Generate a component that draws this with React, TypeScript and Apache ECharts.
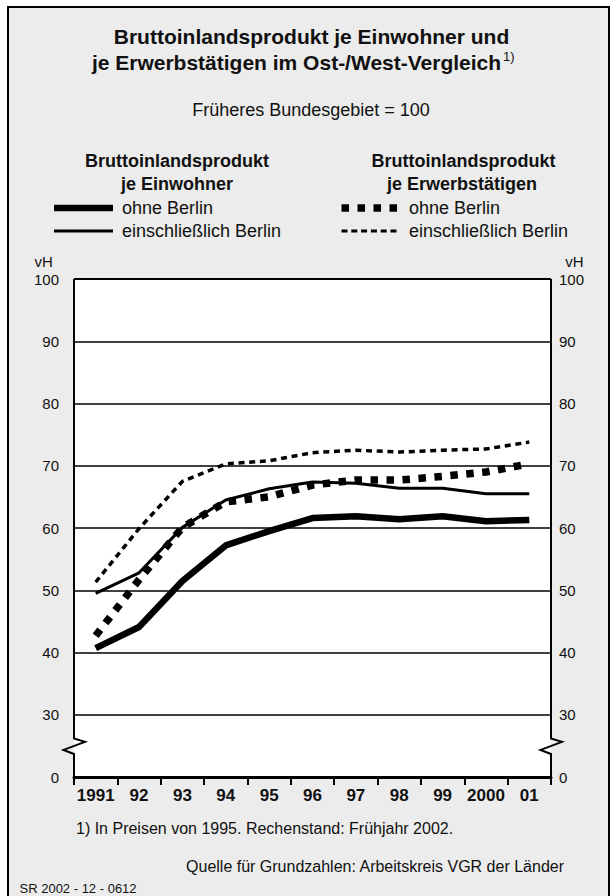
import React, { useEffect, useRef } from "react";
import * as echarts from "echarts";

const years = ["1991", "92", "93", "94", "95", "96", "97", "98", "99", "2000", "01"];
// BIP je Einwohner
const einwOhneBerlin = [40.7, 44.1, 51.5, 57.2, 59.5, 61.6, 61.9, 61.4, 61.9, 61.1, 61.3];
const einwMitBerlin = [49.5, 52.8, 60.1, 64.5, 66.3, 67.4, 67.2, 66.4, 66.4, 65.5, 65.5];
// BIP je Erwerbstätigen
const erwOhneBerlin = [42.7, 51.7, 60.1, 64.2, 65.0, 66.9, 67.7, 67.7, 68.3, 69.0, 70.3];
const erwMitBerlin = [51.3, 59.9, 67.5, 70.3, 70.8, 72.1, 72.5, 72.2, 72.5, 72.7, 73.8];

const yMin = 20; // shown as "0" (broken axis)
const yMax = 100;
const yStep = 10;

const FONT = "'Liberation Sans', Arial, Helvetica, sans-serif";

export default function App() {
  const ref = useRef<HTMLDivElement>(null);

  useEffect(() => {
    if (!ref.current) return;
    const chart = echarts.init(ref.current, undefined, { renderer: "svg" });

    const W = 611;
    const H = 896;
    const gLeft = 74;
    const gRight = 60;
    const gTop = 279;
    const gBottom = 119;
    const xl = gLeft;
    const xr = W - gRight;
    const yt = gTop;
    const yb = H - gBottom;
    const yOf = (v: number) => yt + ((yMax - v) / (yMax - yMin)) * (yb - yt);

    const zig = (x: number) => {
      const b1 = yOf(26.2);
      const b2 = yOf(23.7);
      return [
        [x, yt],
        [x, b1],
        [x + 11, b1 + 3.5],
        [x - 10.5, b1 + 11.5],
        [x, b2],
        [x, yb],
      ];
    };

    const txt = (
      x: number,
      y: number,
      text: string,
      size: number,
      opts: any = {}
    ) => ({
      type: "text",
      x,
      y,
      z: 20,
      style: {
        text,
        fill: "#111",
        font: `${opts.bold ? "bold " : ""}${size}px ${FONT}`,
        textAlign: opts.align || "left",
        textVerticalAlign: "middle",
      },
    });

    const legendLine = (
      x1: number,
      x2: number,
      y: number,
      w: number,
      dash?: number[]
    ) => ({
      type: "line",
      z: 20,
      shape: { x1, y1: y, x2, y2: y },
      style: {
        stroke: "#000",
        lineWidth: w,
        lineDash: dash || null,
        lineCap: "butt",
      },
    });

    const option: any = {
      animation: false,
      backgroundColor: "#ffffff",
      grid: {
        left: gLeft,
        right: gRight,
        top: gTop,
        bottom: gBottom,
        show: true,
        backgroundColor: "#ffffff",
        borderWidth: 0,
      },
      xAxis: {
        type: "category",
        data: years,
        boundaryGap: true,
        axisLine: { show: true, lineStyle: { color: "#000", width: 3 } },
        axisTick: {
          show: true,
          alignWithLabel: false,
          length: 8,
          lineStyle: { color: "#000", width: 2 },
        },
        axisLabel: {
          color: "#111",
          fontFamily: FONT,
          fontSize: 17,
          fontWeight: "bold",
          margin: 10,
          interval: 0,
        },
        splitLine: { show: false },
      },
      yAxis: [
        {
          type: "value",
          min: yMin,
          max: yMax,
          interval: yStep,
          position: "left",
          axisLine: { show: false },
          axisTick: { show: false },
          axisLabel: {
            color: "#111",
            fontFamily: FONT,
            fontSize: 15,
            margin: 15,
            formatter: (v: number) => (v === yMin ? "0" : String(v)),
          },
          splitLine: { show: true, lineStyle: { color: "#000", width: 1.5 } },
        },
        {
          type: "value",
          min: yMin,
          max: yMax,
          interval: yStep,
          position: "right",
          axisLine: { show: false },
          axisTick: { show: false },
          axisLabel: {
            color: "#111",
            fontFamily: FONT,
            fontSize: 15,
            margin: 8,
            formatter: (v: number) => (v === yMin ? "0" : String(v)),
          },
          splitLine: { show: false },
        },
      ],
      series: [
        {
          name: "Je Einwohner ohne Berlin",
          type: "line",
          data: einwOhneBerlin,
          symbol: "none",
          z: 3,
          lineStyle: { color: "#000", width: 6.5, type: "solid" },
        },
        {
          name: "Je Einwohner einschließlich Berlin",
          type: "line",
          data: einwMitBerlin,
          symbol: "none",
          z: 3,
          lineStyle: { color: "#000", width: 3, type: "solid" },
        },
        {
          name: "Je Erwerbstätigen ohne Berlin",
          type: "line",
          data: erwOhneBerlin,
          symbol: "none",
          z: 4,
          lineStyle: { color: "#000", width: 7.5, type: [7.5, 8.5], cap: "butt" },
        },
        {
          name: "Je Erwerbstätigen einschließlich Berlin",
          type: "line",
          data: erwMitBerlin,
          symbol: "none",
          z: 4,
          lineStyle: { color: "#000", width: 3.5, type: [6, 4.7], cap: "butt" },
        },
      ],
      graphic: {
        elements: [
          {
            type: "rect",
            z: -10,
            shape: { x: 8, y: 7, width: 601, height: 900 },
            style: { fill: "#ececec", stroke: "#000", lineWidth: 2 },
          },
          {
            type: "line",
            z: 20,
            shape: { x1: xl, y1: yt, x2: xr, y2: yt },
            style: { stroke: "#000", lineWidth: 2 },
          },
          {
            type: "polyline",
            z: 20,
            shape: { points: zig(xl) },
            style: { stroke: "#000", lineWidth: 2, fill: null },
          },
          {
            type: "polyline",
            z: 20,
            shape: { points: zig(xr) },
            style: { stroke: "#000", lineWidth: 2, fill: null },
          },
          // Title
          txt(311.5, 36, "Bruttoinlandsprodukt je Einwohner und", 21, { bold: true, align: "center" }),
          txt(296.5, 62, "je Erwerbstätigen im Ost-/West-Vergleich", 21, { bold: true, align: "center" }),
          txt(503, 56, "1)", 13),
          txt(311, 110, "Früheres Bundesgebiet = 100", 18, { align: "center" }),
          // Legend headers
          txt(177, 161, "Bruttoinlandsprodukt", 18, { bold: true, align: "center" }),
          txt(177, 184, "je Einwohner", 18, { bold: true, align: "center" }),
          txt(463.5, 161, "Bruttoinlandsprodukt", 18, { bold: true, align: "center" }),
          txt(462, 184, "je Erwerbstätigen", 18, { bold: true, align: "center" }),
          // Legend entries
          legendLine(54, 113, 208, 6.5),
          txt(122, 208, "ohne Berlin", 18),
          legendLine(54, 113, 231, 3),
          txt(122, 231, "einschließlich Berlin", 18),
          legendLine(341.5, 397.5, 208, 7.5, [7.5, 8.5]),
          txt(409, 208, "ohne Berlin", 18),
          legendLine(341.5, 397, 231, 3, [6, 3.8]),
          txt(409, 231, "einschließlich Berlin", 18),
          // Unit labels
          txt(34.5, 261, "vH", 15),
          txt(583.5, 261, "vH", 15, { align: "right" }),
          // Footnotes
          txt(76, 828, "1) In Preisen von 1995. Rechenstand: Frühjahr 2002.", 16),
          txt(564, 866, "Quelle für Grundzahlen: Arbeitskreis VGR der Länder", 16, { align: "right" }),
          txt(19.5, 888, "SR 2002 - 12 - 0612", 13),
        ],
      },
    };

    chart.setOption(option);
    return () => chart.dispose();
  }, []);

  return (
    <div
      ref={ref}
      style={{ position: "fixed", left: 0, top: 0, width: 611, height: 896 }}
    />
  );
}
